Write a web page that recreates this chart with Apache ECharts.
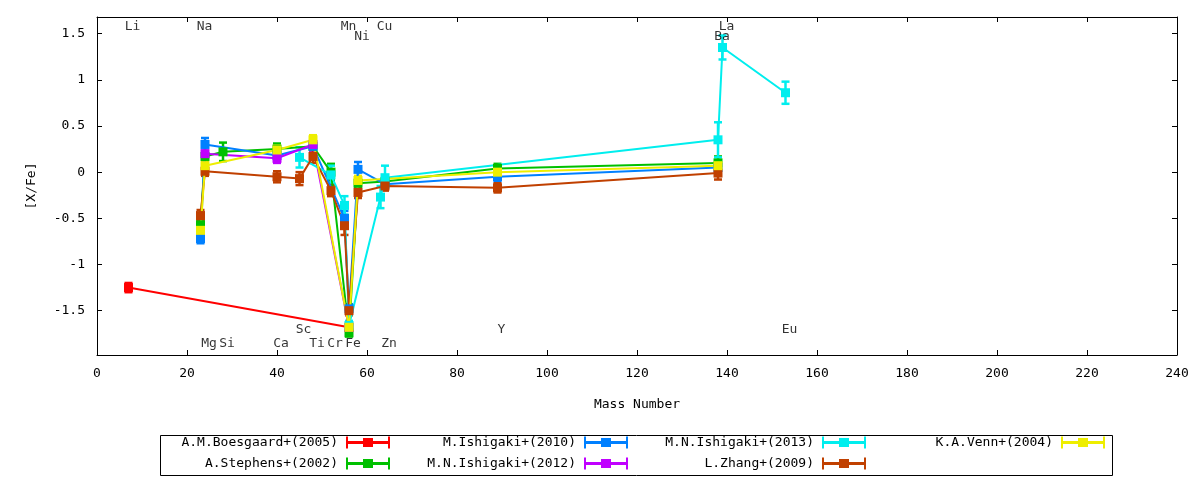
<!DOCTYPE html>
<html>
<head>
<meta charset="utf-8">
<script src="https://cdn.jsdelivr.net/npm/echarts@6/dist/echarts.min.js"></script>
<style>
  html, body { margin: 0; padding: 0; background: #fff; }
  #chart { width: 1200px; height: 480px; }
</style>
</head>
<body>
<div id="chart"></div>
<script>
// each point: [mass number, [X/Fe], error]
var boesgaard = [[7, -1.25, 0.05], [56, -1.68, 0.03]];
var stephens = [[23, -0.57, 0.05], [24, 0.17, 0.06], [28, 0.22, 0.1], [40, 0.25, 0.06], [48, 0.28, 0.06],
  [52, 0.0, 0.09], [56, -1.74, 0.04], [58, -0.12, 0.05], [64, -0.10, 0.05], [89, 0.04, 0.05], [138, 0.10, 0.07]];
var ishigaki2010 = [[23, -0.72, 0.05], [24, 0.30, 0.07], [40, 0.18, 0.05], [48, 0.28, 0.05], [55, -0.5, 0.08],
  [56, -1.48, 0.05], [58, 0.03, 0.08], [64, -0.13, 0.05], [89, -0.05, 0.05], [138, 0.05, 0.05]];
var ishigaki2012 = [[24, 0.20, 0.07], [40, 0.15, 0.05], [48, 0.30, 0.07], [56, -1.68, 0.04]];
var ishigaki2013 = [[45, 0.16, 0.11], [52, -0.03, 0.1], [55, -0.36, 0.1], [56, -1.66, 0.05], [63, -0.27, 0.12],
  [64, -0.06, 0.13], [138, 0.35, 0.19], [139, 1.35, 0.13], [153, 0.86, 0.12]];
var zhang = [[23, -0.47, 0.06], [24, 0.01, 0.05], [40, -0.05, 0.06], [45, -0.07, 0.07], [48, 0.17, 0.07],
  [52, -0.2, 0.06], [55, -0.58, 0.1], [56, -1.5, 0.05], [58, -0.22, 0.06], [64, -0.15, 0.05], [89, -0.17, 0.05], [138, -0.01, 0.07]];
var venn = [[23, -0.63, 0.06], [24, 0.07, 0.06], [40, 0.24, 0.05], [48, 0.35, 0.05], [56, -1.68, 0.05],
  [58, -0.09, 0.05], [89, 0.0, 0.04], [138, 0.07, 0.04]];

var seriesNames = ['A.M.Boesgaard+(2005)', 'A.Stephens+(2002)', 'M.Ishigaki+(2010)', 'M.N.Ishigaki+(2012)',
  'M.N.Ishigaki+(2013)', 'L.Zhang+(2009)', 'K.A.Venn+(2004)'];
var seriesData = [boesgaard, stephens, ishigaki2010, ishigaki2012, ishigaki2013, zhang, venn];

var elements = ['Li', 'Na', 'Mg', 'Si', 'Ca', 'Sc', 'Ti', 'Cr', 'Mn', 'Fe', 'Ni', 'Cu', 'Zn', 'Y', 'Ba', 'La', 'Eu'];
var elementMass = [7, 23, 24, 28, 40, 45, 48, 52, 55, 56, 58, 63, 64, 89, 138, 139, 153];
var yTicks = [-1.5, -1, -0.5, 0, 0.5, 1, 1.5];

// gnuplot default line colours
var colors = ['#ff0000', '#00c000', '#0080ff', '#c000ff', '#00eeee', '#c04000', '#eeee00'];
// label rows (data y) for element names
var rowY = [1.58, 1.47, -1.71, -1.86];
var elementRow = [0, 0, 3, 3, 3, 2, 3, 3, 0, 3, 1, 0, 3, 2, 1, 0, 2];

var font = 'DejaVu Sans Mono';
var legendIcon = 'path://M0,0h2v4.5h15v-3h10v3h15v-4.5h2v12h-2v-4.5h-15v3h-10v-3h-15v4.5h-2z';

function errorBars(color) {
  return function(params, api) {
    var x = api.value(0);
    var top = api.coord([x, api.value(2)]);
    var bot = api.coord([x, api.value(1)]);
    var w = 4;
    var st = { stroke: color, lineWidth: 2.5 };
    return {
      type: 'group',
      children: [
        { type: 'line', shape: { x1: top[0], y1: top[1], x2: bot[0], y2: bot[1] }, style: st },
        { type: 'line', shape: { x1: top[0] - w, y1: top[1], x2: top[0] + w, y2: top[1] }, style: st },
        { type: 'line', shape: { x1: bot[0] - w, y1: bot[1], x2: bot[0] + w, y2: bot[1] }, style: st }
      ]
    };
  };
}

var series = [];
seriesData.forEach(function(d, i) {
  series.push({
    name: seriesNames[i],
    type: 'custom',
    renderItem: errorBars(colors[i]),
    itemStyle: { color: colors[i] },
    encode: { x: 0, y: [1, 2] },
    data: d.map(function(p) { return [p[0], p[1] - p[2], p[1] + p[2]]; }),
    silent: true
  });
  series.push({
    name: seriesNames[i],
    type: 'line',
    data: d.map(function(p) { return [p[0], p[1]]; }),
    symbol: 'rect',
    symbolSize: 9,
    showAllSymbol: true,
    itemStyle: { color: colors[i] },
    lineStyle: { color: colors[i], width: 2 },
    silent: true
  });
});

series.push({
  type: 'scatter',
  symbolSize: 0,
  silent: true,
  data: elements.map(function(e, i) {
    return { name: e, value: [elementMass[i], rowY[elementRow[i]]] };
  }),
  label: {
    show: true, position: 'inside', offset: [4, 0], formatter: '{b}',
    color: '#000', fontFamily: font, fontSize: 13
  }
});

// legend: 4 columns x 2 rows, filled column by column
var colRight = [810, 572, 334, 95];
var rowTop = [436, 457];
var legends = seriesNames.map(function(n, i) {
  return {
    data: [{ name: n, icon: legendIcon }],
    right: colRight[Math.floor(i / 2)],
    top: rowTop[i % 2],
    align: 'right',
    padding: 0,
    itemWidth: 44,
    itemHeight: 12,
    symbolKeepAspect: false,
    selectedMode: false,
    textStyle: { color: '#000', fontFamily: font, fontSize: 13, padding: [0, 3, 0, 0] }
  };
});

var axisLine = { show: true, onZero: false, lineStyle: { color: '#000', width: 1 } };
var tick = { inside: true, length: 5, lineStyle: { color: '#000' } };

var chart = echarts.init(document.getElementById('chart'), null, { renderer: 'canvas' });
chart.setOption({
  animation: false,
  backgroundColor: '#fff',
  grid: { left: 97, right: 23, top: 17, bottom: 125 },
  legend: legends,
  xAxis: [{
    type: 'value', min: 0, max: 240, interval: 20,
    name: 'Mass Number', nameLocation: 'middle', nameGap: 43,
    nameTextStyle: { color: '#000', fontFamily: font, fontSize: 13 },
    axisLine: axisLine, axisTick: tick, splitLine: { show: false },
    axisLabel: { color: '#000', fontFamily: font, fontSize: 13, margin: 12 }
  }, {
    type: 'value', min: 0, max: 240, interval: 20, position: 'top',
    axisLine: axisLine, axisTick: tick, splitLine: { show: false }, axisLabel: { show: false }
  }],
  yAxis: [{
    type: 'value', min: -1.98, max: 1.68,
    name: '[X/Fe]', nameLocation: 'middle', nameGap: 59, nameRotate: 90,
    nameTextStyle: { color: '#000', fontFamily: font, fontSize: 13 },
    axisLine: axisLine,
    axisTick: Object.assign({ customValues: yTicks }, tick),
    splitLine: { show: false },
    axisLabel: { customValues: yTicks, color: '#000', fontFamily: font, fontSize: 13, margin: 12 }
  }, {
    type: 'value', min: -1.98, max: 1.68, position: 'right',
    axisLine: axisLine,
    axisTick: Object.assign({ customValues: yTicks }, tick),
    splitLine: { show: false }, axisLabel: { show: false }
  }],
  graphic: [{
    type: 'rect', silent: true,
    shape: { x: 160.5, y: 435.5, width: 952, height: 40 },
    style: { fill: 'none', stroke: '#000', lineWidth: 1 }
  }],
  series: series
});
</script>
</body>
</html>
